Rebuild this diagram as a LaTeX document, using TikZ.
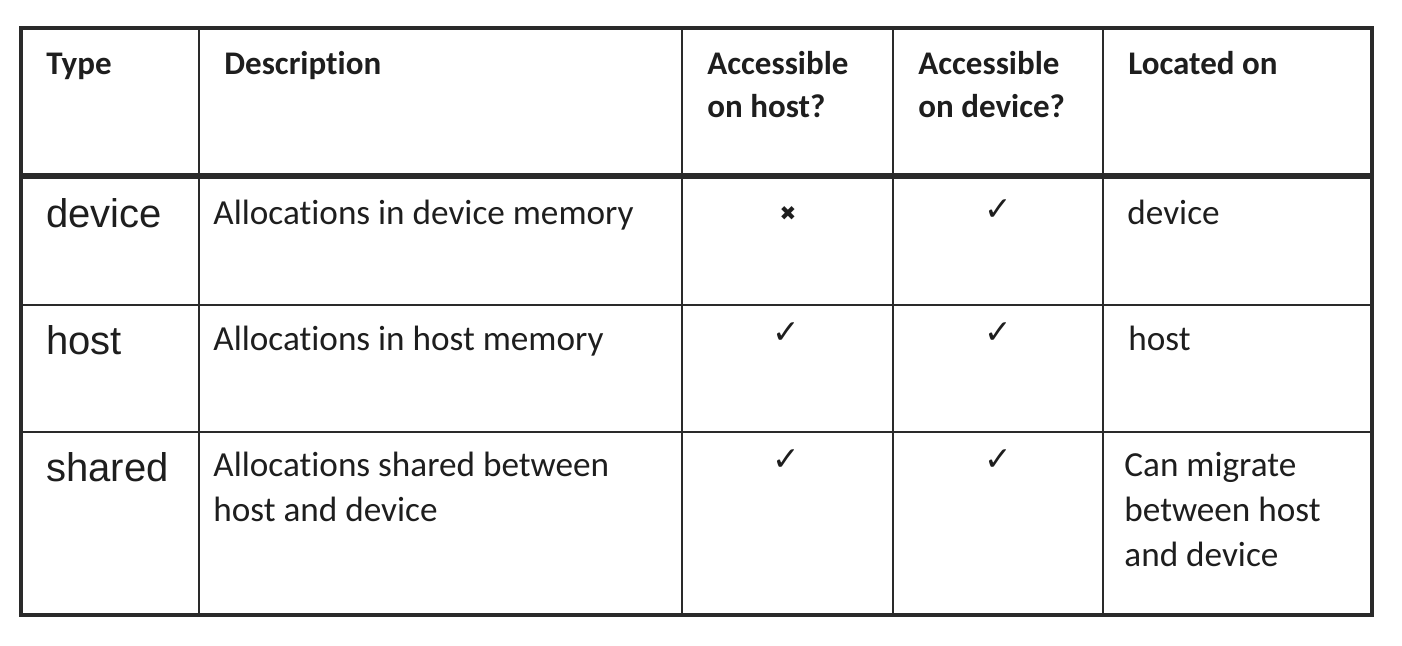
\documentclass[tikz,border=0pt]{standalone}
\usepackage{fontspec}
\setmainfont{Carlito}[Ligatures={NoCommon}]
\newfontfamily\arialf{Liberation Sans}
\newfontfamily\symf{DejaVu Sans}
\definecolor{ink}{HTML}{1E1E1E}
\definecolor{rule}{HTML}{2A2A2A}
\begin{document}
\begin{tikzpicture}[x=0.5pt,y=-0.5pt,
  gridline/.style={draw=rule,line width=1.4pt},
  outerline/.style={draw=rule,line width=1.7pt},
  headrule/.style={draw=rule,line width=3pt},
  headtxt/.style={anchor=base west,inner sep=0pt,text=ink,font=\fontsize{16.5}{21.5}\selectfont\bfseries},
  bodytxt/.style={anchor=base west,inner sep=0pt,text=ink,font=\fontsize{17.6}{22.6}\selectfont},
  typetxt/.style={anchor=base west,inner sep=0pt,text=ink,font=\fontsize{20}{24}\selectfont\arialf},
  tickmark/.style={anchor=center,inner sep=0pt,text=ink,font=\fontsize{16.5}{16.5}\selectfont\symf},
  crossmark/.style={anchor=center,inner sep=0pt,text=ink,font=\fontsize{10}{10}\selectfont\symf}]
\useasboundingbox (0,0) rectangle (1402,646);
\fill[white] (0,0) rectangle (1402,646);
% grid
\draw[gridline] (199,28) -- (199,615);
\draw[gridline] (682,28) -- (682,615);
\draw[gridline] (893,28) -- (893,615);
\draw[gridline] (1103,28) -- (1103,615);
\draw[gridline] (21,305) -- (1372,305);
\draw[gridline] (21,432) -- (1372,432);
\draw[headrule] (21,176.5) -- (1372,176.5);
\draw[outerline] (21,28) rectangle (1372,615);
% header
\node[headtxt] (h1) at (46,75) {Type};
\node[headtxt] (h2) at (224,75) {Description};
\node[headtxt] (h3a) at (707,75) {Accessible};
\node[headtxt] (h3b) at (707,118) {on host?};
\node[headtxt] (h4a) at (918,75) {Accessible};
\node[headtxt] (h4b) at (918,118) {on device?};
\node[headtxt] (h5) at (1128,75) {Located on};
% row 1
\node[typetxt] (t1) at (46,228) {device};
\node[bodytxt] (d1) at (213,225) {Allocations in device memory};
\node[crossmark] (a1) at (788,214) {✖};
\node[tickmark] (b1) at (998,210) {✓};
\node[bodytxt] (l1) at (1127,225) {device};
% row 2
\node[typetxt] (t2) at (46,355) {host};
\node[bodytxt] (d2) at (213,351) {Allocations in host memory};
\node[tickmark] (a2) at (786,333) {✓};
\node[tickmark] (b2) at (998,333) {✓};
\node[bodytxt] (l2) at (1128,351) {host};
% row 3
\node[typetxt] (t3) at (46,481) {shared};
\node[bodytxt] (d3a) at (213,476) {Allocations shared between};
\node[bodytxt] (d3b) at (213,521) {host and device};
\node[tickmark] (a3) at (786,460) {✓};
\node[tickmark] (b3) at (998,460) {✓};
\node[bodytxt] (l3a) at (1124,476) {Can migrate};
\node[bodytxt] (l3b) at (1124,521) {between host};
\node[bodytxt] (l3c) at (1124,566) {and device};
\end{tikzpicture}
\end{document}
